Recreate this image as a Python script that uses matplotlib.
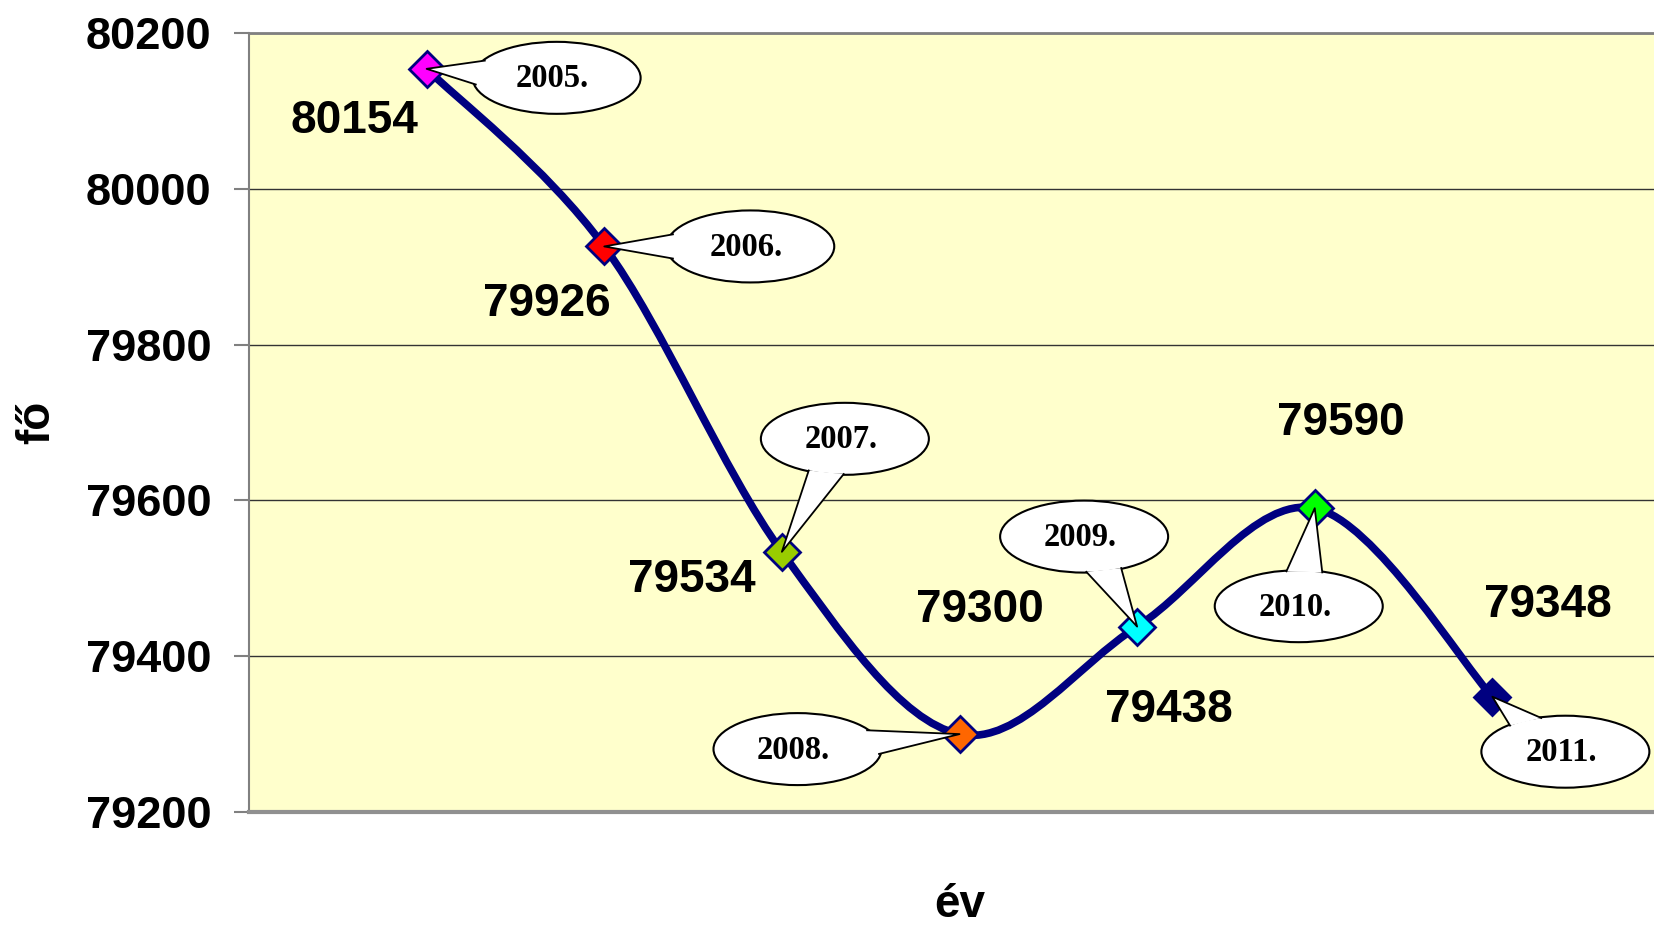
import numpy as np
import matplotlib
matplotlib.use("Agg")
import matplotlib.pyplot as plt
from matplotlib.path import Path
from matplotlib.patches import PathPatch, Ellipse, Polygon
from matplotlib.lines import Line2D
from matplotlib.transforms import IdentityTransform

# ---- data ----
years = ["2005.", "2006.", "2007.", "2008.", "2009.", "2010.", "2011."]
values = [80154, 79926, 79534, 79300, 79438, 79590, 79348]
marker_colors = ["#FF00FF", "#FF0000", "#99CC00", "#FF6600", "#00FFFF", "#00FF00", "#000080"]
y_ticks = [79200, 79400, 79600, 79800, 80000, 80200]

# label offsets (pixels, x right / y down) relative to each point
value_label_offsets = [(-72, 47), (-57, 53), (-90, 23), (20, -129), (32, 78), (26, -90), (55, -97)]
callout_offsets = [(130, 9), (146, 0), (63, -113), (-162, 15), (-53, -90), (-16, 98), (73, 55)]

W, H = 1654, 926
fig = plt.figure(figsize=(W / 100, H / 100), dpi=100)
ax = fig.add_axes([249 / W, 114 / H, 1421 / W, 779 / H])
ax.set_facecolor("#FFFFCC")

xs = np.arange(1, len(values) + 1)
ax.set_xlim(0, len(values) + 1)
ax.set_ylim(79200, 80200)
ax.set_yticks(y_ticks)
ax.set_yticklabels([str(t) for t in y_ticks], fontfamily="Liberation Sans",
                   fontweight="bold", fontsize=32.5)
ax.set_xticks([])
ax.tick_params(axis="y", direction="out", length=11, width=1.5, color="#808080", pad=16)
ax.grid(axis="y", color="#333333", linewidth=1.0)
ax.set_axisbelow(True)
ax.spines["right"].set_visible(False)
ax.spines["top"].set_color("#808080")
ax.spines["top"].set_linewidth(2)
ax.spines["left"].set_color("#808080")
ax.spines["left"].set_linewidth(1.5)
ax.spines["bottom"].set_color("#909090")
ax.spines["bottom"].set_linewidth(3)

# ---- smoothed line (Catmull-Rom as cubic Bezier) ----
pts = np.column_stack([xs, np.array(values, dtype=float)])
ext = np.vstack([pts[0], pts, pts[-1]])
verts = [tuple(pts[0])]
codes = [Path.MOVETO]
for i in range(len(pts) - 1):
    p0, p1, p2, p3 = ext[i], ext[i + 1], ext[i + 2], ext[i + 3]
    c1 = p1 + (p2 - p0) / 6.0
    c2 = p2 - (p3 - p1) / 6.0
    verts += [tuple(c1), tuple(c2), tuple(p2)]
    codes += [Path.CURVE4] * 3
ax.add_patch(PathPatch(Path(verts, codes), fill=False, edgecolor="#000080",
                       linewidth=5.5, capstyle="round", joinstyle="round", zorder=3))

for x, v, c in zip(xs, values, marker_colors):
    ax.plot([x], [v], marker="D", markersize=18.5, markerfacecolor=c,
            markeredgecolor="#000080", markeredgewidth=2, zorder=4, linestyle="none")

# ---- callouts (drawn in pixel space) ----
fig.canvas.draw()
ident = IdentityTransform()
a, b = 84, 36
for x, v, yr, (dx, dy) in zip(xs, values, years, callout_offsets):
    tx, ty = ax.transData.transform((x, v))
    cx, cy = tx + dx, ty - dy
    phi = np.arctan2((ty - cy) / b, (tx - cx) / a)
    d = 0.22 if abs(np.sin(phi)) > 0.5 else 0.35
    p1 = (cx + a * np.cos(phi - d) * 0.98, cy + b * np.sin(phi - d) * 0.98)
    p2 = (cx + a * np.cos(phi + d) * 0.98, cy + b * np.sin(phi + d) * 0.98)
    e = Ellipse((cx, cy), 2 * a, 2 * b, facecolor="white", edgecolor="black",
                linewidth=1.5, transform=ident, zorder=5)
    ax.add_artist(e)
    tri = Polygon([p1, (tx, ty), p2], closed=True, facecolor="white", edgecolor="none",
                  transform=ident, zorder=5.5)
    ax.add_artist(tri)
    ax.add_artist(Line2D([p1[0], tx, p2[0]], [p1[1], ty, p2[1]], color="black",
                         linewidth=1.3, transform=ident, zorder=6))
    ax.text(cx - 4, cy - 1, yr, transform=ident, ha="center", va="center",
            fontfamily="Liberation Serif", fontweight="bold", fontsize=23.5, zorder=7)

# ---- value labels ----
for x, v, (dx, dy) in zip(xs, values, value_label_offsets):
    ax.annotate(str(v), xy=(x, v), xytext=(dx, -dy - 17), textcoords="offset pixels",
                ha="center", va="baseline", fontfamily="Liberation Sans",
                fontweight="bold", fontsize=33, zorder=8)

fig.text(37 / W, 1 - 422 / H, "fő", rotation=90, ha="center", va="center",
         fontfamily="Liberation Sans", fontweight="bold", fontsize=33)
fig.text(960 / W, 1 - 905 / H, "év", ha="center", va="center",
         fontfamily="Liberation Sans", fontweight="bold", fontsize=33)

fig.savefig("out.png", dpi=100, facecolor="white")
